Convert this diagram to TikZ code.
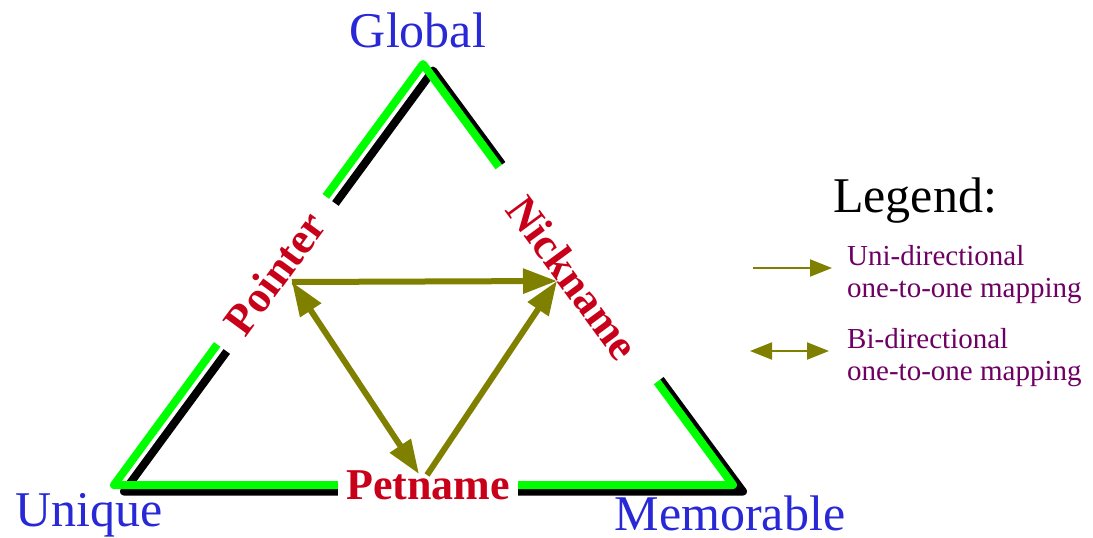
\documentclass[tikz,border=0pt]{standalone}
\usepackage{fontspec}
\setmainfont{Liberation Serif}
\usepackage{xcolor}
\usetikzlibrary{arrows.meta,positioning}

\definecolor{cantoblue}{RGB}{40,40,215}
\definecolor{nomered}{RGB}{200,0,25}
\definecolor{legroxo}{RGB}{110,0,100}
\definecolor{setaoliva}{RGB}{128,128,0}
\definecolor{verdeborda}{RGB}{0,255,0}

\begin{document}
\begin{tikzpicture}[
      x=1pt, y=-1pt,
      canto/.style={text=cantoblue, font=\fontsize{50}{55}\selectfont, inner sep=0pt},
      nome/.style={text=nomered, fill=white, font=\fontsize{44}{48}\selectfont\bfseries, inner ysep=3pt},
      legtxt/.style={text=legroxo, align=left, font=\fontsize{29}{32}\selectfont, inner sep=0pt},
      borda/.style={verdeborda, line width=8pt, line join=round},
      sombra/.style={black, line width=8pt, line join=round},
      seta/.style={-{Triangle[length=34pt,width=24pt]}, line width=6pt, setaoliva},
      seta_dupla/.style={{Triangle[length=34pt,width=24pt]}-{Triangle[length=34pt,width=24pt]}, line width=6pt, setaoliva},
      seta_leg/.style={-{Triangle[length=22pt,width=17pt]}, line width=2pt, setaoliva},
      seta_leg_dupla/.style={{Triangle[length=22pt,width=17pt]}-{Triangle[length=22pt,width=17pt]}, line width=2pt, setaoliva}
  ]
      \useasboundingbox (0,0) rectangle (1093,538);

      % Cantos do triangulo
      \coordinate (top) at (423,64);
      \coordinate (esq) at (114,485);
      \coordinate (dir) at (733,485);

      \draw[sombra] ([xshift=10pt,yshift=-6.5pt]esq) -- ([xshift=10pt,yshift=-6.5pt]top) -- ([xshift=10pt,yshift=-6.5pt]dir) -- cycle;
      \draw[borda] (esq) -- (top) -- (dir) -- cycle;

      \node[canto, anchor=base] (global) at (418,47) {Global};
      \node[canto, anchor=base] (unique) at (89,526) {Unique};
      \node[canto, anchor=base] (memor) at (730,530) {Memorable};

      % Tipos de nome sobre as bordas
      \node[nome, rotate=53.7, inner xsep=22pt] (pointer) at (275,273) {Pointer};
      \node[nome, rotate=-53.6, inner xsep=38pt] (nick) at (573,278) {Nickname};
      \node[nome, anchor=base, inner xsep=8pt] (pet) at (428,499) {Petname};

      % Mapeamentos
      \coordinate (ptr-a) at (292,282);
      \coordinate (nick-a) at (557,281);
      \coordinate (pet-a) at (419,474);
      \coordinate (pet-b) at (427,475);

      \draw[seta] (ptr-a) -- (nick-a);
      \draw[seta_dupla] (ptr-a) -- (pet-a);
      \draw[seta] (pet-b) -- (nick-a);

      % Legenda
      \node[anchor=base, font=\fontsize{50}{55}\selectfont, inner sep=0pt] (leg) at (915,212) {Legend:};
      \node[legtxt, anchor=base west] (leg_uni) at (847,297) {Uni-directional\\one-to-one mapping};
      \node[legtxt, anchor=base west] (leg_bi) at (847,380) {Bi-directional\\one-to-one mapping};

      \coordinate (uni-l) at (753,268);
      \coordinate (uni-r) at (832,268);
      \coordinate (bi-l) at (750,351);
      \coordinate (bi-r) at (829,351);
      \draw[seta_leg] (uni-l) -- (uni-r);
      \draw[seta_leg_dupla] (bi-l) -- (bi-r);

  \end{tikzpicture}
\end{document}
